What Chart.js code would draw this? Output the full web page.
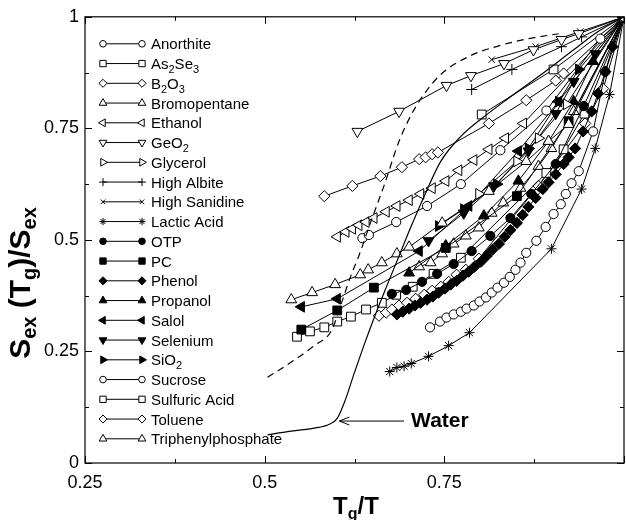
<!DOCTYPE html>
<html>
<head>
<meta charset="utf-8">
<script src="https://cdn.jsdelivr.net/npm/chart.js@4.4.0/dist/chart.umd.min.js"></script>
<style>
  html, body { margin: 0; padding: 0; background: #fff; }
</style>
</head>
<body>
<canvas id="myChart" width="626" height="520"></canvas>
<script>
// Series names (underscore = subscript)
const seriesNames = ['Anorthite', 'As_2Se_3', 'B_2O_3', 'Bromopentane', 'Ethanol', 'GeO_2', 'Glycerol',
    'High Albite', 'High Sanidine', 'Lactic Acid', 'OTP', 'PC', 'Phenol', 'Propanol', 'Salol',
    'Selenium', 'SiO_2', 'Sucrose', 'Sulfuric Acid', 'Toluene', 'Triphenylphosphate'];

// Data: Tg/T (x) and Sex(Tg)/Sex (y)
const anorthiteX = [0.636, 0.645, 0.683, 0.726, 0.773, 0.828, 0.892, 0.967, 1];
const anorthiteY = [0.504, 0.511, 0.540, 0.576, 0.625, 0.701, 0.790, 0.951, 1];
const as2se3X = [0.802, 0.902, 1];
const as2se3Y = [0.781, 0.882, 1];
const b2o3X = [0.583, 0.622, 0.661, 0.691, 0.715, 0.724, 0.733, 0.741, 0.812, 0.864, 0.905, 0.916, 1];
const b2o3Y = [0.598, 0.621, 0.643, 0.663, 0.681, 0.685, 0.692, 0.696, 0.761, 0.813, 0.857, 0.873, 1];
const bromoX = [0.537, 0.566, 0.598, 0.633, 0.644, 0.663, 0.684, 0.701, 0.747, 0.812, 0.864, 0.895, 0.923, 1];
const bromoY = [0.366, 0.382, 0.400, 0.422, 0.433, 0.449, 0.469, 0.484, 0.538, 0.609, 0.676, 0.721, 0.759, 1];
const ethanolX = [0.601, 0.613, 0.622, 0.631, 0.641, 0.652, 0.669, 0.684, 0.701, 0.717, 0.733, 0.752, 0.770, 0.791, 0.812, 0.835, 0.860, 1];
const ethanolY = [0.507, 0.518, 0.525, 0.533, 0.540, 0.549, 0.563, 0.576, 0.589, 0.603, 0.616, 0.632, 0.656, 0.679, 0.703, 0.728, 0.761, 1];
const geo2X = [0.629, 0.687, 0.753, 0.787, 0.833, 0.874, 0.913, 0.937, 1];
const geo2Y = [0.743, 0.788, 0.846, 0.868, 0.895, 0.926, 0.949, 0.962, 1];
const glycerolX = [0.798, 0.851, 0.881, 0.920, 1];
const glycerolY = [0.603, 0.676, 0.728, 0.804, 1];
const albiteX = [0.788, 0.844, 0.913, 0.941, 1];
const albiteY = [0.837, 0.882, 0.933, 0.955, 1];
const sanidineX = [0.816, 0.877, 0.939, 1];
const sanidineY = [0.904, 0.933, 0.967, 1];
const lacticX = [0.674, 0.684, 0.694, 0.704, 0.728, 0.756, 0.785, 0.899, 0.941, 0.960, 0.980, 1];
const lacticY = [0.205, 0.214, 0.217, 0.223, 0.239, 0.263, 0.292, 0.480, 0.614, 0.705, 0.826, 1];
const otpX = [0.677, 0.697, 0.719, 0.740, 0.763, 0.788, 0.814, 0.842, 0.871, 0.905, 0.944, 1];
const otpY = [0.379, 0.388, 0.406, 0.424, 0.446, 0.475, 0.509, 0.549, 0.603, 0.670, 0.800, 1];
const pcX = [0.551, 0.601, 0.652, 0.752, 0.851, 0.923, 1];
const pcY = [0.299, 0.342, 0.393, 0.482, 0.598, 0.766, 1];
const phenolX = [0.684, 0.692, 0.701, 0.709, 0.717, 0.726, 0.734, 0.742, 0.751, 0.759, 0.767, 0.776,
    0.784, 0.792, 0.801, 0.809, 0.817, 0.826, 0.834, 0.842, 0.851, 0.859, 0.867, 0.877,
    0.887, 0.895, 0.905, 0.916, 0.923, 0.932, 0.943, 0.955, 0.964, 0.974, 0.984, 1];
const phenolY = [0.333, 0.339, 0.346, 0.353, 0.359, 0.366, 0.373, 0.382, 0.391, 0.400, 0.408, 0.420,
    0.429, 0.440, 0.451, 0.464, 0.478, 0.491, 0.507, 0.522, 0.538, 0.556, 0.574, 0.594,
    0.614, 0.629, 0.647, 0.670, 0.685, 0.705, 0.743, 0.788, 0.828, 0.877, 0.933, 1];
const propanolX = [0.701, 0.752, 0.805, 0.853, 0.895, 0.930, 0.957, 1];
const propanolY = [0.426, 0.487, 0.554, 0.632, 0.721, 0.810, 0.900, 1];
const salolX = [0.551, 0.601, 0.715, 0.784, 0.853, 0.909, 1];
const salolY = [0.350, 0.368, 0.475, 0.576, 0.699, 0.810, 1];
const seleniumX = [0.728, 0.777, 0.819, 0.867, 0.905, 0.930, 0.960, 1];
const seleniumY = [0.498, 0.560, 0.621, 0.699, 0.783, 0.855, 0.917, 1];
const sio2X = [0.742, 0.777, 0.823, 0.867, 0.909, 0.937, 1];
const sio2Y = [0.531, 0.569, 0.625, 0.705, 0.810, 0.882, 1];
const sucroseX = [0.730, 0.744, 0.753, 0.763, 0.773, 0.781, 0.791, 0.799, 0.808, 0.816, 0.824, 0.833, 0.841,
    0.849, 0.856, 0.864, 0.878, 0.891, 0.902, 0.912, 0.919, 0.927, 0.937, 0.957, 0.974, 1];
const sucroseY = [0.304, 0.317, 0.326, 0.333, 0.339, 0.346, 0.353, 0.362, 0.371, 0.382, 0.393, 0.404, 0.417,
    0.433, 0.449, 0.471, 0.498, 0.529, 0.558, 0.580, 0.603, 0.627, 0.654, 0.743, 0.877, 1];
const sulfuricX = [0.545, 0.563, 0.583, 0.601, 0.620, 0.641, 0.663, 0.683, 0.706, 0.735, 0.773, 0.892, 0.916, 0.945, 1];
const sulfuricY = [0.283, 0.295, 0.304, 0.317, 0.328, 0.344, 0.359, 0.377, 0.395, 0.424, 0.460, 0.650, 0.703, 0.783, 1];
const tolueneX = [0.659, 0.669, 0.677, 0.687, 0.698, 0.710, 0.722, 0.733, 0.745, 0.756, 0.767, 0.780, 0.798, 0.881, 0.946, 0.971, 1];
const tolueneY = [0.330, 0.337, 0.344, 0.353, 0.359, 0.368, 0.377, 0.386, 0.395, 0.406, 0.422, 0.433, 0.458, 0.621, 0.761, 0.839, 1];
const triphX = [0.715, 0.731, 0.747, 0.763, 0.780, 0.798, 0.816, 0.832, 0.856, 0.881, 0.899, 0.930, 1];
const triphY = [0.440, 0.449, 0.469, 0.491, 0.509, 0.527, 0.560, 0.583, 0.616, 0.665, 0.705, 0.788, 1];

// curves without markers
const waterX = [0.504, 0.534, 0.569, 0.590, 0.601, 0.611, 0.625, 0.638, 0.652, 0.670, 0.687, 0.704, 0.722, 0.745, 0.773, 0.802, 0.839, 0.881, 0.930, 0.964, 1];
const waterY = [0.063, 0.071, 0.078, 0.087, 0.100, 0.136, 0.203, 0.263, 0.324, 0.397, 0.464, 0.531, 0.598, 0.676, 0.732, 0.772, 0.817, 0.866, 0.926, 0.967, 1];
const dashX = [0.504, 0.534, 0.569, 0.593, 0.608, 0.620, 0.631, 0.648, 0.666, 0.687, 0.708, 0.742, 0.784, 0.826, 0.867, 0.909];
const dashY = [0.192, 0.223, 0.263, 0.297, 0.364, 0.420, 0.464, 0.542, 0.621, 0.721, 0.792, 0.866, 0.911, 0.935, 0.951, 0.962];

const seriesX = [anorthiteX, as2se3X, b2o3X, bromoX, ethanolX, geo2X, glycerolX, albiteX, sanidineX, lacticX,
    otpX, pcX, phenolX, propanolX, salolX, seleniumX, sio2X, sucroseX, sulfuricX, tolueneX, triphX];
const seriesY = [anorthiteY, as2se3Y, b2o3Y, bromoY, ethanolY, geo2Y, glycerolY, albiteY, sanidineY, lacticY,
    otpY, pcY, phenolY, propanolY, salolY, seleniumY, sio2Y, sucroseY, sulfuricY, tolueneY, triphY];

// ticks
const xTickLabels = [0.25, 0.5, 0.75];
const yTickLabels = [0, 0.25, 0.5, 0.75, 1];

// annotation
const waterText = 'Water';
const waterArrow = { fromX: 0.694, toX: 0.604, y: 0.094 };

// marker per series: [style, rotation, filled]
const markers = [
    ['circle', 0, false], ['rect', 0, false], ['rectRot', 0, false], ['triangle', 0, false],
    ['triangle', 270, false], ['triangle', 180, false], ['triangle', 90, false], ['cross', 0, false],
    ['crossRot', 0, false], ['star', 0, false], ['circle', 0, true], ['rect', 0, true],
    ['rectRot', 0, true], ['triangle', 0, true], ['triangle', 270, true], ['triangle', 180, true],
    ['triangle', 90, true], ['circle', 0, false], ['rect', 0, false], ['rectRot', 0, false],
    ['triangle', 0, false]
];
const markerSize = { circle: 4.6, rect: 6.2, rectRot: 5.6, triangle: 6.2, cross: 5.5, crossRot: 4.5, star: 5 };

const FONT = '"Liberation Sans", Arial, Helvetica, sans-serif';

function toPoints(xs, ys) {
    return xs.map(function (x, i) { return { x: x, y: ys[i] }; });
}

var datasets = [];
datasets.push({
    label: 'Water', data: toPoints(waterX, waterY), showLine: true, pointRadius: 0,
    borderColor: '#000', borderWidth: 1.2, cubicInterpolationMode: 'monotone'
});
datasets.push({
    label: 'dashed', data: toPoints(dashX, dashY), showLine: true, pointRadius: 0,
    borderColor: '#000', borderWidth: 1.2, borderDash: [7, 5], cubicInterpolationMode: 'monotone'
});
for (let i = 0; i < seriesNames.length; i++) {
    var m = markers[i];
    datasets.push({
        label: seriesNames[i],
        data: toPoints(seriesX[i], seriesY[i]),
        showLine: true,
        borderColor: '#000',
        borderWidth: 1,
        pointStyle: m[0],
        pointRotation: m[1],
        pointRadius: markerSize[m[0]],
        pointBackgroundColor: m[2] ? '#000' : '#fff',
        pointBorderColor: '#000',
        pointBorderWidth: 1
    });
}

// text with subscripts: "_x" or "_{xx}"
function parseSub(str) {
    var parts = [];
    var buf = '';
    for (var i = 0; i < str.length; i++) {
        var c = str[i];
        if (c === '_') {
            if (buf) parts.push({ t: buf, sub: false });
            buf = '';
            if (str[i + 1] === '{') {
                var end = str.indexOf('}', i);
                parts.push({ t: str.slice(i + 2, end), sub: true });
                i = end;
            } else {
                parts.push({ t: str[i + 1], sub: true });
                i++;
            }
        } else {
            buf += c;
        }
    }
    if (buf) parts.push({ t: buf, sub: false });
    return parts;
}

function richWidth(ctx, parts, mainFont, subFont) {
    var w = 0;
    parts.forEach(function (p) {
        ctx.font = p.sub ? subFont : mainFont;
        w += ctx.measureText(p.t).width;
    });
    return w;
}

function drawRich(ctx, str, x, y, mainFont, subFont, drop, align) {
    var parts = parseSub(str);
    var w = richWidth(ctx, parts, mainFont, subFont);
    var cx = align === 'center' ? x - w / 2 : x;
    ctx.textAlign = 'left';
    ctx.textBaseline = 'alphabetic';
    parts.forEach(function (p) {
        ctx.font = p.sub ? subFont : mainFont;
        ctx.fillText(p.t, cx, p.sub ? y + drop : y);
        cx += ctx.measureText(p.t).width;
    });
}

const framePlugin = {
    id: 'frame',
    afterDatasetsDraw: function (chart) {
        var ctx = chart.ctx;
        var a = chart.chartArea;
        var xs = chart.scales.x, ys = chart.scales.y;
        ctx.save();
        ctx.strokeStyle = '#000';
        ctx.lineWidth = 1.2;
        ctx.strokeRect(a.left, a.top, a.right - a.left, a.bottom - a.top);
        ctx.lineWidth = 1;
        ctx.beginPath();
        xs.ticks.forEach(function (t) {
            var px = Math.round(xs.getPixelForValue(t.value)) + 0.5;
            var len = (Math.abs(t.value * 4 - Math.round(t.value * 4)) < 1e-6) ? 7 : 4;
            ctx.moveTo(px, a.bottom); ctx.lineTo(px, a.bottom - len);
            ctx.moveTo(px, a.top); ctx.lineTo(px, a.top + len);
        });
        ys.ticks.forEach(function (t) {
            var py = Math.round(ys.getPixelForValue(t.value)) + 0.5;
            var len = (Math.abs(t.value * 4 - Math.round(t.value * 4)) < 1e-6) ? 7 : 4;
            ctx.moveTo(a.left, py); ctx.lineTo(a.left + len, py);
            ctx.moveTo(a.right, py); ctx.lineTo(a.right - len, py);
        });
        ctx.stroke();

        // legend
        var Lx = a.left;
        for (var i = 0; i < seriesNames.length; i++) {
            var y = a.top + 27 + i * 19.75;
            var m = markers[i];
            ctx.beginPath();
            ctx.moveTo(Lx + 18, y); ctx.lineTo(Lx + 57, y);
            ctx.lineWidth = 1;
            ctx.stroke();
            ctx.fillStyle = m[2] ? '#000' : '#fff';
            ctx.strokeStyle = '#000';
            var opts = { pointStyle: m[0], rotation: m[1], radius: markerSize[m[0]] * 0.72, borderWidth: 1 };
            Chart.helpers.drawPoint(ctx, opts, Lx + 18, y);
            Chart.helpers.drawPoint(ctx, opts, Lx + 57, y);
            ctx.fillStyle = '#000';
            drawRich(ctx, seriesNames[i], Lx + 66, y + 5.5, '15px ' + FONT, '11px ' + FONT, 4, 'left');
        }

        // water label and arrow
        var ax0 = xs.getPixelForValue(waterArrow.fromX);
        var ax1 = xs.getPixelForValue(waterArrow.toX);
        var ay = ys.getPixelForValue(waterArrow.y);
        ctx.beginPath();
        ctx.moveTo(ax0, ay); ctx.lineTo(ax1, ay);
        ctx.moveTo(ax1 + 10, ay - 4); ctx.lineTo(ax1, ay); ctx.lineTo(ax1 + 10, ay + 4);
        ctx.stroke();
        ctx.fillStyle = '#000';
        ctx.font = 'bold 21px ' + FONT;
        ctx.textAlign = 'left';
        ctx.textBaseline = 'middle';
        ctx.fillText(waterText, ax0 + 7, ay);

        // axis titles
        drawRich(ctx, 'T_g/T', 356, 514, 'bold 24px ' + FONT, 'bold 16px ' + FONT, 5, 'center');
        ctx.save();
        ctx.translate(30, 283);
        ctx.rotate(-Math.PI / 2);
        var yt = 'S_{ex} (T_g)/S_{ex}';
        var mainF = 'bold 30px ' + FONT, subF = 'bold 20px ' + FONT;
        drawRich(ctx, yt, 0, 0, mainF, subF, 6, 'center');
        ctx.restore();
        ctx.restore();
    }
};

function tickFmt(list) {
    return function (v) {
        for (var i = 0; i < list.length; i++) {
            if (Math.abs(list[i] - v) < 1e-6) return String(list[i]);
        }
        return '';
    };
}

const ctx = document.getElementById('myChart').getContext('2d');
const myChart = new Chart(ctx, {
    type: 'scatter',
    data: { datasets: datasets },
    options: {
        responsive: false,
        animation: false,
        devicePixelRatio: 1,
        layout: { autoPadding: false, padding: { top: 15, right: 2, left: 0, bottom: 0 } },
        plugins: { legend: { display: false }, tooltip: { enabled: false } },
        scales: {
            x: {
                type: 'linear', min: 0.25, max: 1,
                grid: { display: false, drawTicks: false },
                border: { display: false },
                ticks: { stepSize: 0.125, autoSkip: false, maxRotation: 0, padding: 9, color: '#000',
                    font: { size: 18, family: FONT }, callback: tickFmt(xTickLabels) },
                afterFit: function (s) { s.height = 57; s.paddingRight = 0; s.paddingLeft = 0; }
            },
            y: {
                type: 'linear', min: 0, max: 1,
                grid: { display: false, drawTicks: false },
                border: { display: false },
                ticks: { stepSize: 0.125, autoSkip: false, padding: 6, color: '#000',
                    font: { size: 18, family: FONT }, callback: tickFmt(yTickLabels) },
                afterFit: function (s) { s.width = 85; s.paddingRight = 0; }
            }
        }
    },
    plugins: [framePlugin]
});
</script>
</body>
</html>
